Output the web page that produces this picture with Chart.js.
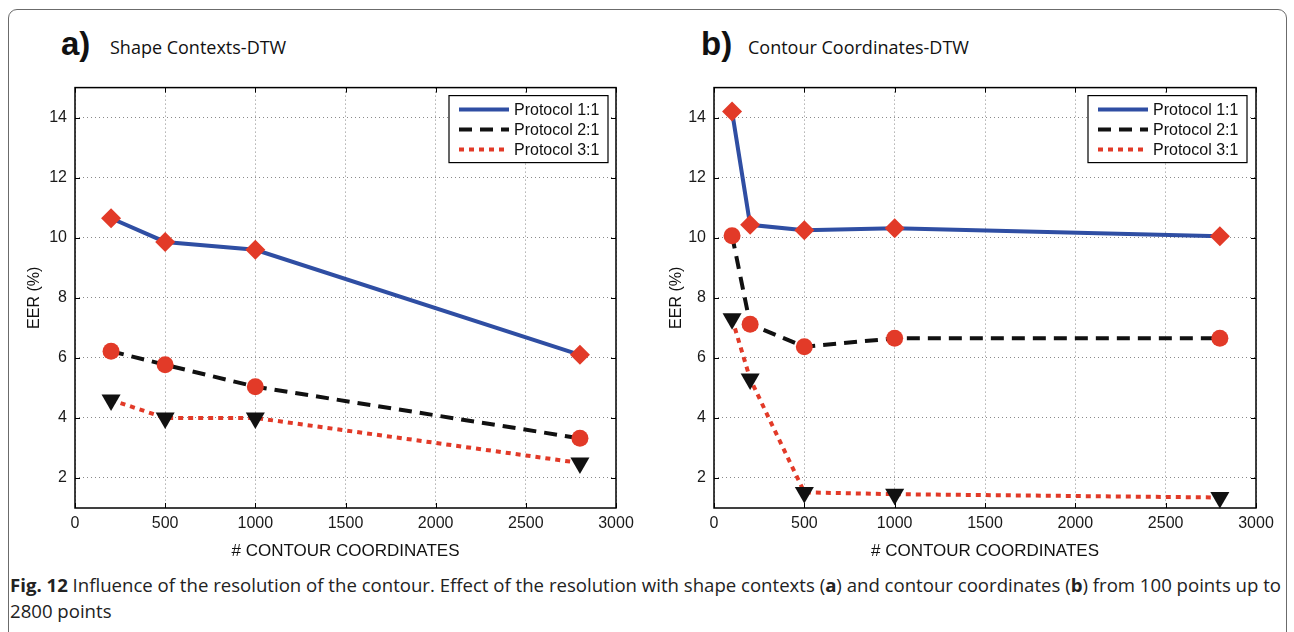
<!DOCTYPE html>
<html>
<head>
<meta charset="utf-8">
<script src="https://cdn.jsdelivr.net/npm/chart.js@4.4.1/dist/chart.umd.min.js"></script>
<style>
    body { margin: 0; background: #fff; }
    #fig { position: relative; width: 1294px; height: 632px; overflow: hidden; }
    #frame { position: absolute; left: 8px; top: 9px; width: 1277px; height: 700px; border: 1.5px solid #6b6b6b; border-radius: 9px; }
    .panel { position: absolute; top: 25px; font-family: "Liberation Sans", Arial, sans-serif; font-weight: bold; font-size: 33px; color: #111; }
    .sub { position: absolute; top: 35px; font-family: "Open Sans", sans-serif; font-size: 18px; color: #111; }
    canvas { position: absolute; top: 70px; }
    #caption { position: absolute; left: 10px; top: 572px; font-family: "Open Sans", sans-serif; font-size: 18.6px; line-height: 26px; color: #222; white-space: nowrap; }
</style>
</head>
<body>
<div id="fig">
    <div id="frame"></div>
    <div class="panel" style="left:61px">a)</div>
    <div class="sub" style="left:110px">Shape Contexts-DTW</div>
    <div class="panel" style="left:701px">b)</div>
    <div class="sub" style="left:748px">Contour Coordinates-DTW</div>
    <canvas id="chartA" width="620" height="500" style="left:20px"></canvas>
    <canvas id="chartB" width="620" height="500" style="left:660px"></canvas>
    <div id="caption"><b>Fig. 12</b> Influence of the resolution of the contour. Effect of the resolution with shape contexts (<b>a</b>) and contour coordinates (<b>b</b>) from 100 points up to<br>2800 points</div>
</div>

<script>
// Оси
const xTicks = [0, 500, 1000, 1500, 2000, 2500, 3000];
const yTicks = [2, 4, 6, 8, 10, 12, 14];
const seriesNames = ['Protocol 1:1', 'Protocol 2:1', 'Protocol 3:1'];

// a) Shape Contexts-DTW
const pointsA = [200, 500, 1000, 2800];
const eerA_p11 = [10.65, 9.86, 9.6, 6.1];
const eerA_p21 = [6.22, 5.77, 5.04, 3.32];
const eerA_p31 = [4.6, 4.0, 4.0, 2.5];

// b) Contour Coordinates-DTW
const pointsB = [100, 200, 500, 1000, 2800];
const eerB_p11 = [14.2, 10.43, 10.25, 10.32, 10.05];
const eerB_p21 = [10.07, 7.12, 6.37, 6.65, 6.65];
const eerB_p31 = [7.3, 5.3, 1.52, 1.46, 1.35];

const RED = '#e23a28';
const BLUE = '#2f4ea3';
const BLACK = '#111';
const FONT = { family: '"Liberation Sans", Arial, sans-serif', size: 16 };

// стиль каждой серии (линия + маркер)
const styles = [
    { color: BLUE, dash: [], marker: 'rectRot', radius: 10, markerColor: RED, rotation: 0 },
    { color: BLACK, dash: [13, 8], marker: 'circle', radius: 8.5, markerColor: RED, rotation: 0 },
    { color: RED, dash: [5, 5], marker: 'triangle', radius: 11, markerColor: BLACK, rotation: 180 }
];

function makeDatasets(xs, series) {
    return series.map((ys, i) => ({
        label: seriesNames[i],
        data: xs.map((x, j) => ({ x, y: ys[j] })),
        borderColor: styles[i].color,
        borderWidth: 4,
        borderDash: styles[i].dash,
        borderCapStyle: 'butt',
        pointStyle: styles[i].marker,
        pointRadius: styles[i].radius,
        pointRotation: styles[i].rotation,
        pointBackgroundColor: styles[i].markerColor,
        pointBorderColor: styles[i].markerColor,
        pointBorderWidth: 0,
        tension: 0,
        clip: false
    }));
}

// рамка, внутренние засечки и легенда в правом верхнем углу
const framePlugin = {
    id: 'frame',
    afterDraw(chart, args, opts) {
        const { ctx, chartArea: a, scales: { x, y } } = chart;
        ctx.save();
        ctx.strokeStyle = '#000';
        ctx.lineWidth = 1;
        ctx.beginPath();
        x.ticks.forEach(t => {
            const px = Math.round(x.getPixelForValue(t.value)) + 0.5;
            ctx.moveTo(px, a.bottom); ctx.lineTo(px, a.bottom - 5);
            ctx.moveTo(px, a.top); ctx.lineTo(px, a.top + 5);
        });
        y.ticks.forEach(t => {
            const py = Math.round(y.getPixelForValue(t.value)) + 0.5;
            ctx.moveTo(a.left, py); ctx.lineTo(a.left + 5, py);
            ctx.moveTo(a.right, py); ctx.lineTo(a.right - 5, py);
        });
        ctx.stroke();
        ctx.lineWidth = 1.5;
        ctx.strokeRect(a.left, a.top, a.right - a.left, a.bottom - a.top);

        // легенда
        const w = 159, h = 67;
        const lx = a.right - opts.right - w, ly = a.top + 8;
        ctx.fillStyle = '#fff';
        ctx.fillRect(lx, ly, w, h);
        ctx.lineWidth = 1.2;
        ctx.strokeRect(lx, ly, w, h);
        ctx.font = '16px "Liberation Sans", Arial, sans-serif';
        ctx.textBaseline = 'middle';
        chart.data.datasets.forEach((ds, i) => {
            const ry = ly + 14 + i * 20;
            ctx.strokeStyle = ds.borderColor;
            ctx.lineWidth = 4;
            ctx.setLineDash(ds.borderDash);
            ctx.beginPath();
            ctx.moveTo(lx + 10, ry);
            ctx.lineTo(lx + 60, ry);
            ctx.stroke();
            ctx.setLineDash([]);
            ctx.fillStyle = '#111';
            ctx.fillText(ds.label, lx + 65, ry + 1);
        });
        ctx.restore();
    }
};

function buildChart(id, xs, series, yAxisWidth, yTitlePad, rightPad, legendRight) {
    const ctx = document.getElementById(id).getContext('2d');
    return new Chart(ctx, {
        type: 'line',
        data: { datasets: makeDatasets(xs, series) },
        options: {
            responsive: false,
            animation: false,
            devicePixelRatio: 1,
            layout: { padding: { top: 11, right: rightPad, left: 0, bottom: 0 } },
            plugins: {
                legend: { display: false },
                tooltip: { enabled: false },
                frame: { right: legendRight }
            },
            scales: {
                x: {
                    type: 'linear',
                    min: 0,
                    max: 3000,
                    afterBuildTicks: s => { s.ticks = xTicks.map(v => ({ value: v })); },
                    afterFit: s => { s.height = 62; },
                    grid: { color: '#8a8a8a', lineWidth: 1, drawTicks: false },
                    border: { display: false, dash: [1, 3] },
                    ticks: { font: FONT, color: '#1a1a1a', padding: 6, maxRotation: 0, callback: v => String(v) },
                    title: { display: true, text: '# CONTOUR COORDINATES', font: { ...FONT, size: 17 }, color: '#111', padding: { top: 4, bottom: 8 } }
                },
                y: {
                    min: 1,
                    max: 15,
                    afterBuildTicks: s => { s.ticks = yTicks.map(v => ({ value: v })); },
                    afterFit: s => { s.width = yAxisWidth; },
                    grid: { color: '#8a8a8a', lineWidth: 1, drawTicks: false },
                    border: { display: false, dash: [1, 3] },
                    ticks: { font: FONT, color: '#1a1a1a', padding: 8, callback: v => String(v) },
                    title: { display: true, text: 'EER (%)', font: { ...FONT, size: 16 }, color: '#111', padding: { top: yTitlePad, bottom: 0 } }
                }
            }
        },
        plugins: [framePlugin]
    });
}

buildChart('chartA', pointsA, [eerA_p11, eerA_p21, eerA_p31], 55, 5, 24, 8);
buildChart('chartB', pointsB, [eerB_p11, eerB_p21, eerB_p31], 54, 7, 24, 9);
</script>
</body>
</html>
